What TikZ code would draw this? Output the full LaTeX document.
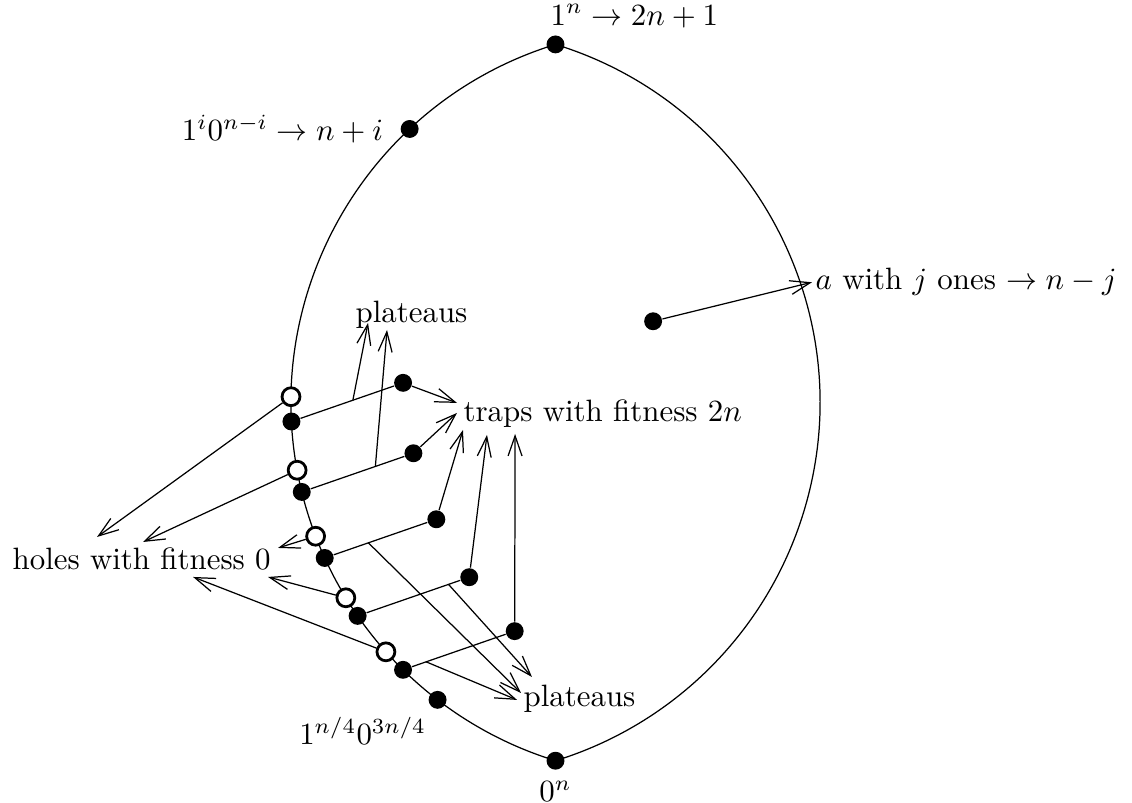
\documentclass[tikz,border=0pt]{standalone}
\usepackage{amsmath,amssymb}
\usepackage{tikz}
\usetikzlibrary{positioning, arrows.meta}

\begin{document}
\begin{tikzpicture}[
  dot/.style={circle, fill=black, inner sep=0pt, minimum size=5.8pt},
  hole/.style={circle, draw=black, fill=white, line width=0.9pt,
    inner sep=0pt, minimum size=5.8pt},
  arrow/.style={-{Straight Barb[length=6.5pt, width=4.5pt]}},
  txt/.style={anchor=base west, inner sep=1pt},
]
  \useasboundingbox (0,0) rectangle (12.878, 9.135);

  % Lens: two arcs with these centres
  \coordinate (cl) at (7.573, 4.555);
  \coordinate (cr) at (5.066, 4.555);
  \draw ([shift={(107.1:4.263)}]cl) arc[start angle=107.1, end angle=252.9, radius=4.263];
  \draw ([shift={(72.9:4.263)}]cr) arc[start angle=72.9, end angle=-72.9, radius=4.263];

  % Points on the left arc
  \node[dot] (top) at ([shift={(107.1:4.263)}]cl) {};
  \node[dot] (mid) at ([shift={(133.1:4.263)}]cl) {};
  \node[dot] (quarter) at ([shift={(232.5:4.263)}]cl) {};
  \node[dot] (bot) at ([shift={(252.9:4.263)}]cl) {};
  \node[dot] (inner) at (7.43, 5.48) {};

  % Holes, path points and traps
  \foreach \k/\ao/\af/\q in {1/179.1/182.9/0.56, 2/190.4/193.8/0.69,
      3/200.9/204.5/0.37, 4/211.4/214.7/0.875, 5/221.7/225.5/0.15} {
    \node[hole] (o\k) at ([shift={(\ao:4.263)}]cl) {};
    \node[dot] (f\k) at ([shift={(\af:4.263)}]cl) {};
    \node[dot] (r\k) at ([shift={(1.27,0.44)}]f\k) {};
    \draw (f\k) -- (r\k) coordinate[pos=\q] (p\k);
  }

  % Labels
  \node[txt, inner sep=0pt] (toplab) at (6.257, 8.850) {$1^n \rightarrow 2n+1$};
  \node[left=2pt of mid] (midlab) {$1^i0^{n-i} \rightarrow n+i$};
  \node[below left=0pt and -2pt of quarter] (quarterlab) {$1^{n/4}0^{3n/4}$};
  \node[below=0pt of bot] (botlab) {$0^n$};
  \node[txt] (ones) at (9.237, 5.836) {$a$ with $j$ ones $\rightarrow n-j$};
  \node[txt] (traps) at (5.232, 4.334) {traps with fitness $2n$};
  \node[txt] (holes) at (0.102, 2.651) {holes with fitness 0};
  \node[txt] (platup) at (4.004, 5.464) {plateaus};
  \node[txt] (platlow) at (5.915, 1.096) {plateaus};

  % Arrow ends
  \coordinate (h1) at (1.104, 3.026);
  \coordinate (h2) at (1.627, 2.969);
  \coordinate (h3) at (3.163, 2.901);
  \coordinate (h4) at (3.049, 2.571);
  \coordinate (h5) at (2.196, 2.571);
  \coordinate (t1) at (5.199, 4.551);
  \coordinate (t2) at (5.199, 4.437);
  \coordinate (t3) at (5.267, 4.243);
  \coordinate (t4) at (5.540, 4.187);
  \coordinate (t5) at (5.860, 4.198);
  \coordinate (u1) at (4.187, 5.461);
  \coordinate (u2) at (4.403, 5.381);
  \coordinate (l3) at (5.927, 1.251);
  \coordinate (l4) at (6.052, 1.433);
  \coordinate (l5) at (5.882, 1.172);

  % Arrows
  \draw[arrow] (inner) -- (ones.west);
  \foreach \k in {1,...,5} {
    \draw[arrow] (o\k) -- (h\k);
    \draw[arrow] (r\k) -- (t\k);
  }
  \foreach \k/\e in {1/u1, 2/u2, 3/l3, 4/l4, 5/l5}
    \draw[arrow] (p\k) -- (\e);
\end{tikzpicture}
\end{document}
